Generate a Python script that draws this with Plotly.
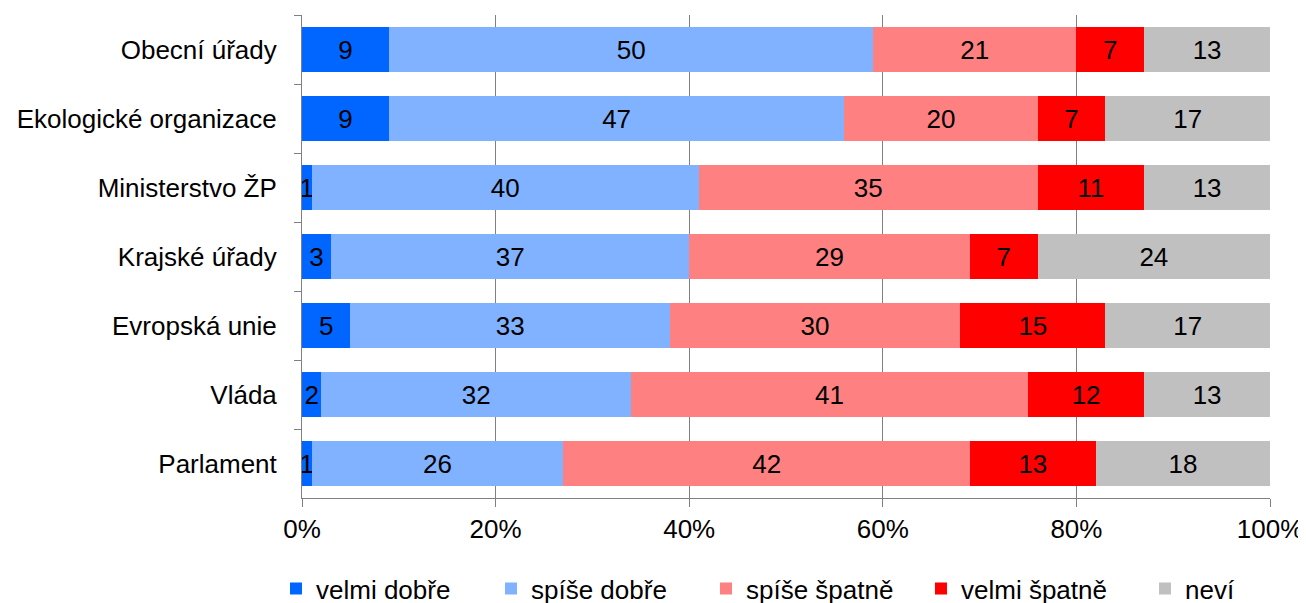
import plotly.graph_objects as go

categories = ["Obecní úřady", "Ekologické organizace", "Ministerstvo ŽP", "Krajské úřady",
              "Evropská unie", "Vláda", "Parlament"]
series_names = ["velmi dobře", "spíše dobře", "spíše špatně", "velmi špatně", "neví"]
velmi_dobre = [9, 9, 1, 3, 5, 2, 1]
spise_dobre = [50, 47, 40, 37, 33, 32, 26]
spise_spatne = [21, 20, 35, 29, 30, 41, 42]
velmi_spatne = [7, 7, 11, 7, 15, 12, 13]
nevi = [13, 17, 13, 24, 17, 13, 18]
tick_vals = [0, 20, 40, 60, 80, 100]
tick_labels = ["0%", "20%", "40%", "60%", "80%", "100%"]

series_values = [velmi_dobre, spise_dobre, spise_spatne, velmi_spatne, nevi]
colors = ["#0066FF", "#80B2FF", "#FF8080", "#FF0000", "#C0C0C0"]
legend_ids = ["legend", "legend", "legend", "legend", "legend2"]

FONT = "Liberation Sans, Arial, sans-serif"
FS = 26
fig = go.Figure()
for name, vals, col, lg in zip(series_names, series_values, colors, legend_ids):
    fig.add_trace(go.Bar(
        y=categories, x=vals, name=name, orientation="h",
        marker=dict(color=col, line=dict(width=0)),
        text=[str(v) for v in vals], textposition="inside",
        insidetextanchor="middle", textangle=0,
        textfont=dict(color="black", size=FS, family=FONT),
        hoverinfo="skip", legend=lg,
    ))

leg_common = dict(orientation="h", xref="container", yref="container", yanchor="top", y=0.076,
                  xanchor="left",
                  font=dict(size=FS, color="black", family=FONT),
                  entrywidthmode="pixels", traceorder="normal", itemclick=False,
                  bgcolor="rgba(0,0,0,0)")
fig.update_layout(
    barmode="stack", bargap=0.36,
    width=1306, height=603,
    margin=dict(l=294, r=44, t=7, b=113),
    paper_bgcolor="white", plot_bgcolor="white",
    font=dict(family=FONT, size=FS, color="black"),
    uniformtext=dict(minsize=FS, mode="show"),
    showlegend=True,
    legend=dict(x=0.2052, entrywidth=170, **leg_common),
    legend2=dict(x=0.8706, entrywidth=60, **leg_common),
)
fig.update_xaxes(range=[0, 100], tickmode="array", tickvals=tick_vals, ticktext=tick_labels,
                 showgrid=True, gridcolor="#808080", gridwidth=1,
                 showline=True, linecolor="#808080", linewidth=1,
                 ticks="outside", ticklen=8, tickcolor="#808080",
                 zeroline=False, tickfont=dict(size=FS), fixedrange=True)
fig.update_yaxes(autorange="reversed", showline=True, linecolor="#808080", linewidth=1,
                 ticks="outside", ticklen=7, tickcolor="#808080", tickson="boundaries",
                 showgrid=False, tickfont=dict(size=FS), ticklabelstandoff=19,
                 fixedrange=True)

fig.write_html("out.html")
